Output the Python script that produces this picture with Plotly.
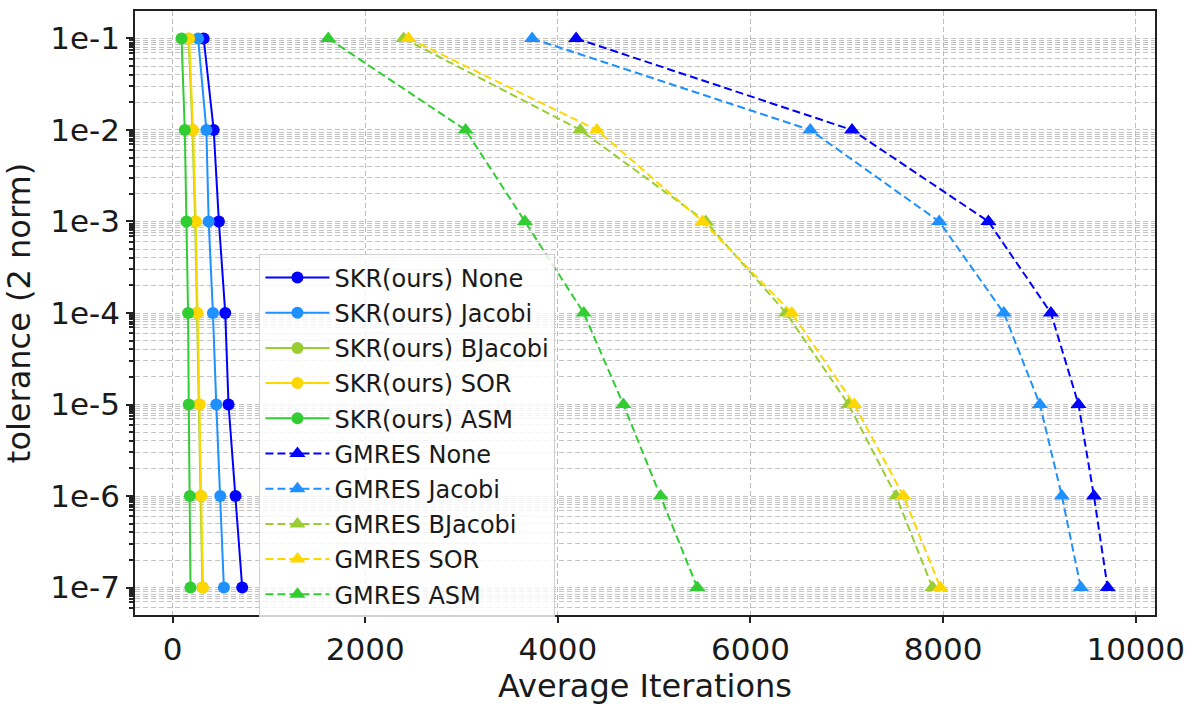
import plotly.graph_objects as go

# ---- data ----
tolerances = [1e-1, 1e-2, 1e-3, 1e-4, 1e-5, 1e-6, 1e-7]
tick_labels = ["1e-1", "1e-2", "1e-3", "1e-4", "1e-5", "1e-6", "1e-7"]

skr_none = [323, 427, 481, 547, 581, 654, 723]
skr_jacobi = [265, 351, 375, 419, 454, 495, 533]
skr_bjacobi = [166, 207, 235, 252, 276, 293, 310]
skr_sor = [172, 213, 241, 258, 282, 299, 316]
skr_asm = [93, 127, 144, 161, 168, 179, 186]

gmres_none = [4190, 7054, 8470, 9119, 9406, 9566, 9708]
gmres_jacobi = [3733, 6621, 7959, 8630, 9005, 9233, 9430]
gmres_bjacobi = [2398, 4233, 5535, 6370, 7018, 7512, 7890]
gmres_sor = [2450, 4406, 5503, 6429, 7078, 7589, 7972]
gmres_asm = [1616, 3042, 3658, 4269, 4681, 5068, 5448]

x_ticks = [0, 2000, 4000, 6000, 8000, 10000]

# minor grid multiples seen in each decade of the reference
minor_multiples = [2, 3, 4, 5, 6, 7, 7.5, 8, 8.5, 9, 9.5]
decades = [-8, -7, -6, -5, -4, -3, -2]

colors = {
    "None": "#0000FF",
    "Jacobi": "#1E90FF",
    "BJacobi": "#9ACD32",
    "SOR": "#FFD700",
    "ASM": "#32CD32",
}

skr = [("None", skr_none), ("Jacobi", skr_jacobi), ("BJacobi", skr_bjacobi),
       ("SOR", skr_sor), ("ASM", skr_asm)]
gmres = [("None", gmres_none), ("Jacobi", gmres_jacobi), ("BJacobi", gmres_bjacobi),
         ("SOR", gmres_sor), ("ASM", gmres_asm)]

fig = go.Figure()
for name, vals in skr:
    fig.add_trace(go.Scatter(
        x=vals, y=tolerances, mode="lines+markers", name=f"SKR(ours) {name}",
        legendgroup=f"skr{name}",
        line=dict(color=colors[name], width=2),
        marker=dict(symbol="circle", size=12, color=colors[name]),
    ))
for name, vals in gmres:
    fig.add_trace(go.Scatter(
        x=vals, y=tolerances, mode="lines+markers", name=f"GMRES {name}",
        legendgroup=f"gmres{name}",
        line=dict(color=colors[name], width=2, dash="8px,4px"),
        marker=dict(symbol="triangle-up", size=14, color=colors[name]),
    ))

font = "DejaVu Sans, sans-serif"
gridc = "#c4c4c4"
minor_vals = [m * 10 ** d for d in decades for m in minor_multiples]

fig.update_layout(
    width=1194, height=706,
    margin=dict(l=135, r=33, t=9, b=85),
    paper_bgcolor="white", plot_bgcolor="white",
    font=dict(family=font, color="#1a1a1a"),
    legend=dict(
        x=0.122, y=0.597, xanchor="left", yanchor="top",
        bgcolor="rgba(255,255,255,0.8)", bordercolor="#d0d0d0", borderwidth=1,
        font=dict(size=24, family=font, color="#1a1a1a"),
        tracegroupgap=1, itemwidth=64,
    ),
    showlegend=True,
)

fig.update_xaxes(
    range=[-390, 10200],
    tickvals=x_ticks, ticktext=[str(v) for v in x_ticks],
    tickfont=dict(size=31, family=font),
    ticks="outside", ticklen=6, tickwidth=1.5, tickcolor="#222",
    showline=True, linecolor="#222", linewidth=1.5, mirror=True,
    showgrid=True, gridcolor="#bdbdbd", griddash="5px,3px", gridwidth=1,
    zeroline=False,
    title=dict(text="Average Iterations", font=dict(size=32, family=font), standoff=8),
)

fig.update_yaxes(
    type="log", range=[-7.3, -0.7],
    tickvals=tolerances, ticktext=tick_labels,
    tickfont=dict(size=31, family=font),
    ticks="outside", ticklen=7, tickwidth=1.5, tickcolor="#222",
    showline=True, linecolor="#222", linewidth=1.5, mirror=True,
    showgrid=True, gridcolor=gridc, griddash="5px,3px", gridwidth=1,
    zeroline=False,
    minor=dict(ticks="outside", ticklen=4, tickcolor="#222", tickmode="array",
               tickvals=minor_vals,
               showgrid=True, gridcolor=gridc, griddash="5px,3px", gridwidth=1),
    title=dict(text="tolerance (2 norm)", font=dict(size=32, family=font), standoff=10),
)

fig.write_html("out.html")
